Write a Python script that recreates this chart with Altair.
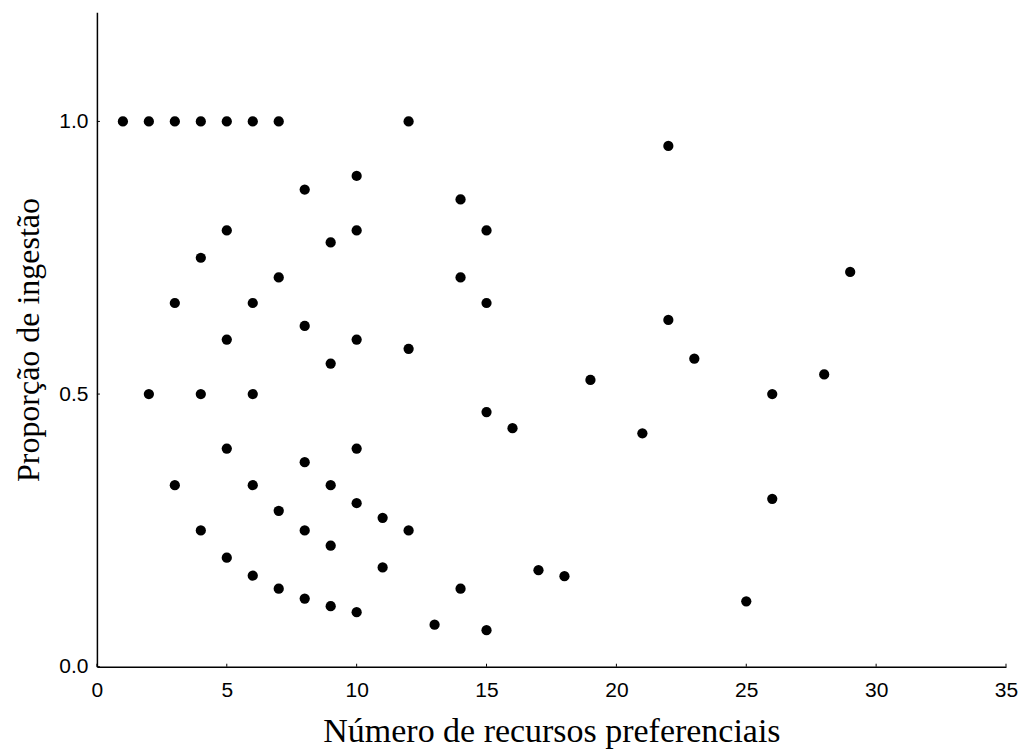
import altair as alt
import pandas as pd

xs = [1,
      2, 2,
      3, 3, 3,
      4, 4, 4, 4,
      5, 5, 5, 5, 5,
      6, 6, 6, 6, 6,
      7, 7, 7, 7,
      8, 8, 8, 8, 8,
      9, 9, 9, 9, 9,
      10, 10, 10, 10, 10, 10,
      11, 11,
      12, 12, 12,
      13,
      14, 14, 14,
      15, 15, 15, 15,
      16, 17, 18, 19, 21,
      22, 22, 23, 25, 26, 26, 28, 29]
ys = [1.0,
      1.0, 0.5,
      1.0, 0.667, 0.333,
      1.0, 0.75, 0.5, 0.25,
      1.0, 0.8, 0.6, 0.4, 0.2,
      1.0, 0.667, 0.5, 0.333, 0.167,
      1.0, 0.714, 0.286, 0.143,
      0.875, 0.625, 0.375, 0.25, 0.125,
      0.778, 0.556, 0.333, 0.222, 0.111,
      0.9, 0.8, 0.6, 0.4, 0.3, 0.1,
      0.273, 0.182,
      1.0, 0.583, 0.25,
      0.077,
      0.857, 0.714, 0.143,
      0.8, 0.667, 0.467, 0.067,
      0.4375, 0.177, 0.166, 0.526, 0.428,
      0.955, 0.636, 0.565, 0.12, 0.5, 0.308, 0.536, 0.724]

x_ticks = [0, 5, 10, 15, 20, 25, 30, 35]
y_ticks = [0.0, 0.5, 1.0]

W, H = 910, 655

df = pd.DataFrame({"x": xs, "y": ys})
xt = pd.DataFrame({"x": x_ticks})
yt = pd.DataFrame({"y": y_ticks})

xscale = alt.Scale(domain=[0, 35], nice=False, zero=False)
yscale = alt.Scale(domain=[0, 1.2], nice=False, zero=False)

common = dict(grid=False, ticks=False, domainColor="black", domainWidth=1.5,
              labelFont="Arial, Liberation Sans", labelFontSize=21, labelColor="black",
              labelFlush=False,
              titleFont="Times New Roman, Liberation Serif",
              titleFontWeight="normal", titleColor="black")

xaxis = alt.Axis(values=x_ticks, title="Número de recursos preferenciais",
                 labelPadding=13, titlePadding=14, titleFontSize=34, **common)
yaxis = alt.Axis(values=y_ticks, format=".1f", title="Proporção de ingestão",
                 labelPadding=9, titlePadding=13, titleFontSize=32, **common)

points = alt.Chart(df).mark_circle(size=105, color="black", opacity=1).encode(
    x=alt.X("x:Q", scale=xscale, axis=xaxis),
    y=alt.Y("y:Q", scale=yscale, axis=yaxis),
)

xtick_marks = alt.Chart(xt).mark_rule(color="black", strokeWidth=1).encode(
    x=alt.X("x:Q", scale=xscale, axis=xaxis),
    y=alt.value(H), y2=alt.value(H - 3),
)
ytick_marks = alt.Chart(yt).mark_rule(color="black", strokeWidth=1).encode(
    y=alt.Y("y:Q", scale=yscale, axis=yaxis),
    x=alt.value(0), x2=alt.value(3),
)

chart = alt.layer(points, xtick_marks, ytick_marks).properties(
    width=W, height=H,
    autosize=alt.AutoSizeParams(type="none"),
    padding={"left": 89, "top": 4, "right": 12, "bottom": 85},
    background="white",
).configure_view(stroke=None).configure_axis(**common)

chart.save("out.html", embed_options={"renderer": "svg", "actions": False})
